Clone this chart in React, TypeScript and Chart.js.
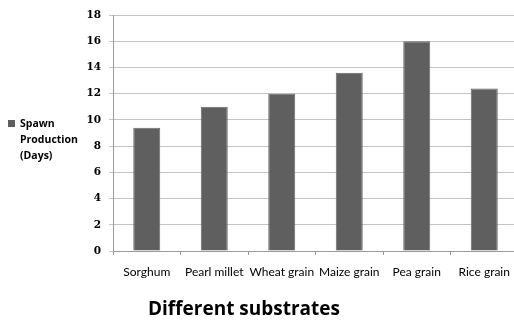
import React, { useEffect, useRef } from "react";
import { Chart, registerables } from "chart.js";

Chart.register(...registerables);

const categories = ["Sorghum", "Pearl millet", "Wheat grain", "Maize grain", "Pea grain", "Rice grain"];
const spawnDays = [9.4, 11, 12, 13.6, 16, 12.4];
const seriesLabel = ["Spawn", "Production", "(Days)"];
const xTitle = "Different substrates";
const yMax = 18;
const yStep = 2;

const BAR = "#5f5f5f";
const GRID = "#c4c4c4";

// Draws the side legend and the axis caption
const extrasPlugin = {
  id: "extras",
  afterDraw(chart: Chart) {
    const ctx = chart.ctx;
    ctx.save();
    ctx.fillStyle = BAR;
    ctx.fillRect(8, 120, 7, 7);
    ctx.fillStyle = "#000";
    ctx.font = "bold 10.5px 'Open Sans', Lato, sans-serif";
    ctx.textBaseline = "middle";
    ctx.textAlign = "left";
    seriesLabel.forEach((line, i) => ctx.fillText(line, 20, 124 + i * 16));
    ctx.font = "bold 19px 'Open Sans', Lato, sans-serif";
    ctx.textAlign = "center";
    ctx.fillText(xTitle, 244, 310);
    ctx.restore();
  },
};

export default function App() {
  const ref = useRef<HTMLCanvasElement>(null);

  useEffect(() => {
    if (!ref.current) return;
    const chart = new Chart(ref.current, {
      type: "bar",
      data: {
        labels: categories,
        datasets: [
          {
            label: seriesLabel.join(" "),
            data: spawnDays,
            backgroundColor: BAR,
            borderColor: "#6a6a6a",
            borderWidth: 1,
            categoryPercentage: 1,
            barPercentage: 0.4,
          },
        ],
      },
      options: {
        responsive: false,
        animation: false,
        layout: { padding: { left: 0, right: 4, top: 15, bottom: 0 } },
        plugins: {
          legend: { display: false },
          tooltip: { enabled: false },
        },
        scales: {
          x: {
            grid: { display: true, drawOnChartArea: false, color: "#9a9a9a", tickLength: 4, offset: true },
            border: { color: "#9a9a9a" },
            ticks: {
              color: "#000",
              font: { family: "Lato, 'Open Sans', sans-serif", size: 12 },
              padding: 10,
              maxRotation: 0,
              autoSkip: false,
            },
            afterFit(scale: any) {
              scale.height = 69;
            },
          },
          y: {
            min: 0,
            max: yMax,
            grid: { color: GRID, tickLength: 4 },
            border: { color: "#9a9a9a" },
            ticks: {
              stepSize: yStep,
              color: "#000",
              font: { family: "'DejaVu Serif', serif", size: 10.5, weight: "bold" },
              padding: 8,
            },
            afterFit(scale: any) {
              scale.width = 113;
            },
          },
        },
      },
      plugins: [extrasPlugin],
    });
    return () => chart.destroy();
  }, []);

  return (
    <div style={{ position: "fixed", left: 0, top: 0, width: 522, height: 320, background: "#fff" }}>
      <canvas ref={ref} width={522} height={320} style={{ display: "block" }} />
    </div>
  );
}
